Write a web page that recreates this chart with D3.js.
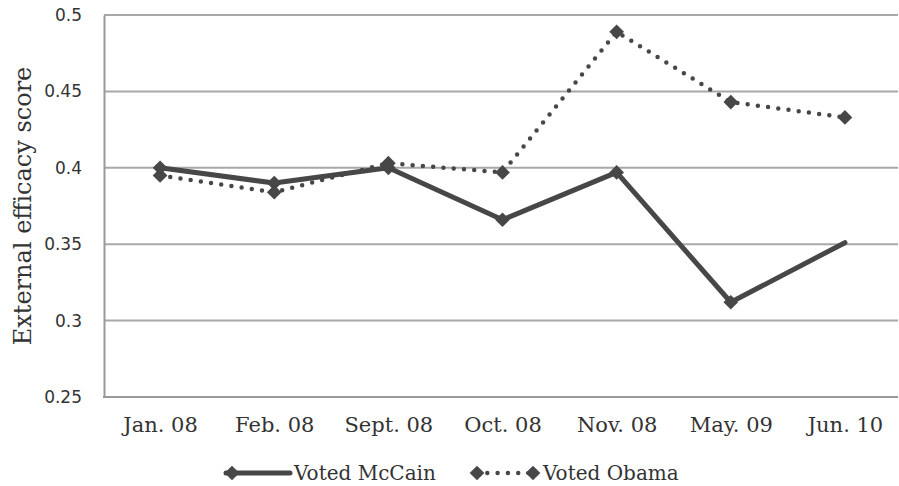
<!DOCTYPE html>
<html>
<head>
<meta charset="utf-8">
<script src="https://cdn.jsdelivr.net/npm/d3@7"></script>
<style>
  html, body { margin: 0; padding: 0; background: #fff; }
  svg { display: block; }
  .serif { font-family: "DejaVu Serif", "Liberation Serif", serif; font-variant-numeric: oldstyle-nums; }
  .sans { font-family: "DejaVu Sans", Verdana, sans-serif; }
</style>
</head>
<body>
<svg id="chart" width="899" height="486"></svg>
<script>
// Survey waves
const waves = ["Jan. 08", "Feb. 08", "Sept. 08", "Oct. 08", "Nov. 08", "May. 09", "Jun. 10"];
// Mean external efficacy score by vote choice
const mccain = [0.400, 0.390, 0.400, 0.366, 0.397, 0.312, 0.351];
const obama  = [0.395, 0.384, 0.403, 0.397, 0.489, 0.443, 0.433];
// Y axis ticks
const yTicks = [0.25, 0.3, 0.35, 0.4, 0.45, 0.5];
const yTickLabels = ["0.25", "0.3", "0.35", "0.4", "0.45", "0.5"];
// Number of McCain waves that carry a marker (the final wave is drawn without one)
const mccainMarked = 6;

const ink = "#474747";
const svg = d3.select("#chart");

const x = d3.scalePoint().domain(waves).range([103, 902]).padding(0.5);
const y = d3.scaleLinear().domain([0.25, 0.5]).range([397, 15]);
const left = 104, right = 898;

// Horizontal gridlines
svg.append("g")
  .selectAll("line")
  .data(yTicks.slice(1))
  .join("line")
  .attr("x1", left).attr("x2", right)
  .attr("y1", d => y(d)).attr("y2", d => y(d))
  .attr("stroke", "#a8a8a8").attr("stroke-width", 2);

// Y axis with labels
const yAxis = d3.axisLeft(y).tickValues(yTicks)
  .tickFormat((d, i) => yTickLabels[i]).tickSize(0).tickPadding(22);
const gy = svg.append("g").attr("transform", `translate(${left},0)`).call(yAxis);
gy.select(".domain").attr("stroke", "#999").attr("stroke-width", 2);
gy.selectAll("text").attr("class", "sans").attr("font-size", 17).attr("fill", "#333");

// X axis baseline and category labels
const xAxis = d3.axisBottom(x).tickSize(0).tickPadding(20);
const gx = svg.append("g").attr("transform", `translate(0,${y(0.25)})`).call(xAxis);
gx.select(".domain").attr("d", `M${left - 1},0H${right}`).attr("stroke", "#999").attr("stroke-width", 2);
gx.selectAll("text").attr("class", "serif").attr("font-size", 21).attr("fill", "#333");

// Y axis title
svg.append("text")
  .attr("class", "serif")
  .attr("transform", `translate(31,${206}) rotate(-90)`)
  .attr("text-anchor", "middle")
  .attr("font-size", 24)
  .attr("fill", "#333")
  .text("External efficacy score");

const line = d3.line().x((d, i) => x(waves[i])).y(d => y(d));
const diamond = d3.symbol().type(d3.symbolSquare).size(108);

// Voted Obama: dotted line
svg.append("path")
  .datum(obama)
  .attr("d", line)
  .attr("fill", "none").attr("stroke", ink)
  .attr("stroke-width", 4.5).attr("stroke-linecap", "round")
  .attr("stroke-dasharray", "0 10.3");

// Voted McCain: solid line
svg.append("path")
  .datum(mccain)
  .attr("d", line)
  .attr("fill", "none").attr("stroke", ink)
  .attr("stroke-width", 5).attr("stroke-linecap", "round").attr("stroke-linejoin", "round");

// Markers
svg.append("g").selectAll("path")
  .data(mccain.slice(0, mccainMarked))
  .join("path")
  .attr("d", diamond)
  .attr("transform", (d, i) => `translate(${x(waves[i])},${y(d)}) rotate(45)`)
  .attr("fill", ink);

svg.append("g").selectAll("path")
  .data(obama)
  .join("path")
  .attr("d", diamond)
  .attr("transform", (d, i) => `translate(${x(waves[i])},${y(d)}) rotate(45)`)
  .attr("fill", ink);

// Legend
const legendY = 473;
const lg = svg.append("g");
lg.append("line").attr("x1", 226).attr("x2", 290).attr("y1", legendY).attr("y2", legendY)
  .attr("stroke", ink).attr("stroke-width", 5).attr("stroke-linecap", "round");
lg.append("path").attr("d", diamond).attr("transform", `translate(232,${legendY}) rotate(45)`).attr("fill", ink);
lg.append("text").attr("class", "serif").attr("x", 294).attr("y", legendY).attr("dy", "0.35em")
  .attr("font-size", 20).attr("fill", "#333").text("Voted McCain");

lg.append("line").attr("x1", 477).attr("x2", 533).attr("y1", legendY).attr("y2", legendY)
  .attr("stroke", ink).attr("stroke-width", 4.5).attr("stroke-linecap", "round")
  .attr("stroke-dasharray", "0 10.3");
lg.append("path").attr("d", diamond).attr("transform", `translate(477,${legendY}) rotate(45)`).attr("fill", ink);
lg.append("path").attr("d", diamond).attr("transform", `translate(533,${legendY}) rotate(45)`).attr("fill", ink);
lg.append("text").attr("class", "serif").attr("x", 543).attr("y", legendY).attr("dy", "0.35em")
  .attr("font-size", 20).attr("fill", "#333").text("Voted Obama");
</script>
</body>
</html>
